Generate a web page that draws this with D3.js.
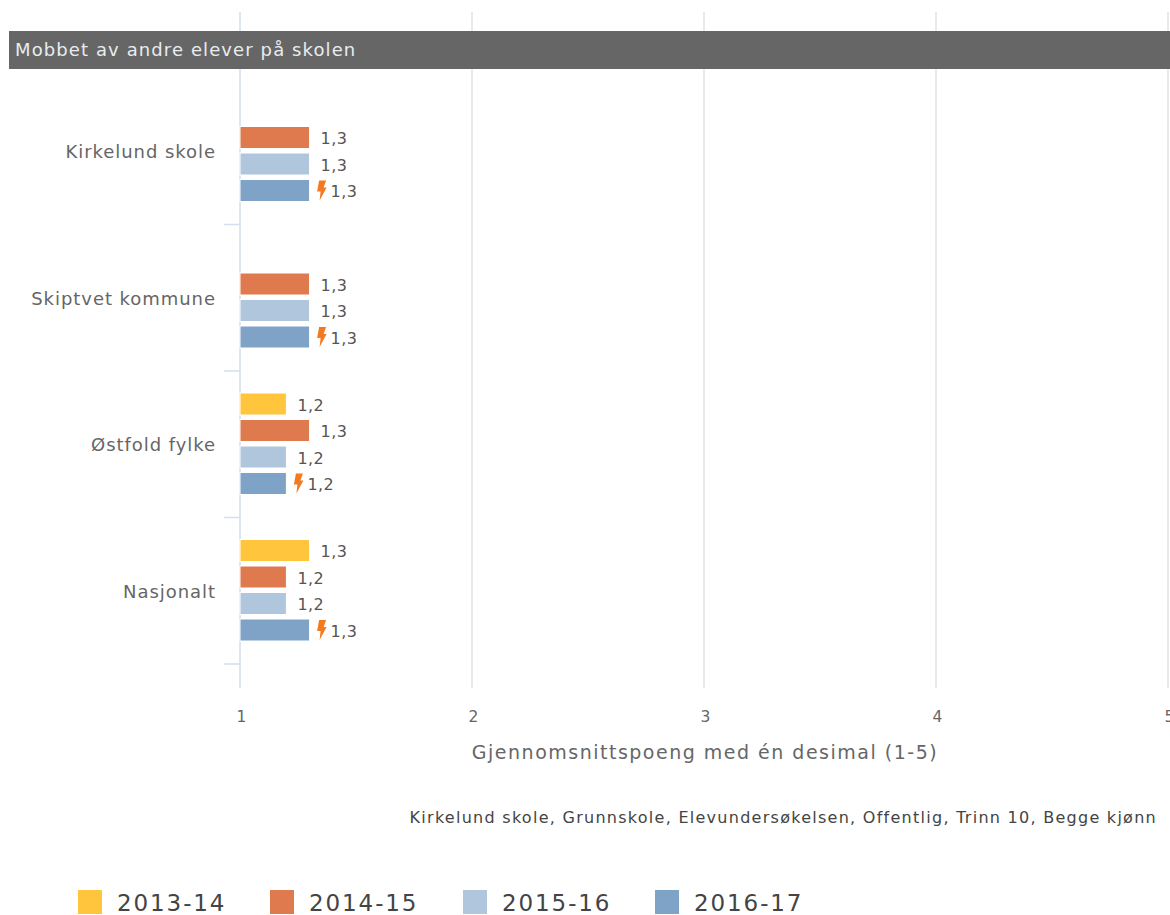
<!DOCTYPE html>
<html lang="en">
<head>
  <meta charset="UTF-8" />
  <title>Mobbet av andre elever</title>
  <script src="https://d3js.org/d3.v7.min.js"></script>
  <style>
    html, body { margin: 0; padding: 0; background: #fff; overflow: hidden; }
    svg { display: block; }
    text { font-family: "DejaVu Sans", sans-serif; }
  </style>
</head>
<body>
<script>
const WIDTH = 1170;
const HEIGHT = 915;

const categories = ["Kirkelund skole", "Skiptvet kommune", "Østfold fylke", "Nasjonalt"];
const years = ["2013-14", "2014-15", "2015-16", "2016-17"];
const colors = ["#ffc63d", "#de7a4e", "#b0c6dc", "#7fa3c7"];
const xTicks = [1, 2, 3, 4, 5];

// one array per year, same order as categories, null = no result
const y2013 = [null, null, 1.2, 1.3];
const y2014 = [1.3, 1.3, 1.3, 1.2];
const y2015 = [1.3, 1.3, 1.2, 1.2];
const y2016 = [1.3, 1.3, 1.2, 1.3];
const series = [y2013, y2014, y2015, y2016];

const svg = d3.select("body").append("svg")
    .attr("width", WIDTH)
    .attr("height", HEIGHT);

const xScale = d3.scaleLinear().domain([1, 5]).range([240, 1168]);
const yScale = d3.scaleBand().domain(categories).range([78, 664]);
const slot = d3.scaleBand().domain(years)
    .range([22, 128]);

// grid
svg.append("g").selectAll("line")
    .data(xTicks)
    .enter().append("line")
        .attr("x1", d => xScale(d))
        .attr("x2", d => xScale(d))
        .attr("y1", 12)
        .attr("y2", 688)
        .attr("stroke", d => d === 1 ? "#d3deee" : "#e2e2e6")
        .attr("stroke-width", 1.5);

// title band
svg.append("rect")
    .attr("x", 9).attr("y", 31)
    .attr("width", WIDTH - 9).attr("height", 38)
    .attr("fill", "#666666");
svg.append("text")
    .attr("x", 15).attr("y", 56)
    .attr("fill", "#e8ecef")
    .attr("font-size", 18)
    .attr("letter-spacing", 1.1)
    .text("Mobbet av andre elever på skolen");

// y axis
svg.append("g")
    .attr("transform", "translate(240,1)")
    .call(d3.axisLeft(yScale).tickSize(0).tickPadding(24))
    .call(g => g.select(".domain").remove())
    .call(g => g.selectAll("text")
        .attr("fill", "#666")
        .attr("font-size", 18)
        .attr("letter-spacing", 0.95));

svg.append("g").selectAll("line")
    .data(categories)
    .enter().append("line")
        .attr("x1", 224).attr("x2", 240)
        .attr("y1", d => yScale(d) + yScale.step())
        .attr("y2", d => yScale(d) + yScale.step())
        .attr("stroke", "#d3deee")
        .attr("stroke-width", 1.5);

// x axis labels
svg.append("g")
    .attr("transform", "translate(1,688)")
    .call(d3.axisBottom(xScale).tickValues(xTicks).tickSize(0).tickPadding(23).tickFormat(d3.format("d")))
    .call(g => g.select(".domain").remove())
    .call(g => g.selectAll("text")
        .attr("fill", "#666")
        .attr("font-size", 15.5));

svg.append("text")
    .attr("x", 705).attr("y", 759)
    .attr("text-anchor", "middle")
    .attr("fill", "#666")
    .attr("font-size", 19)
    .attr("letter-spacing", 1.5)
    .text("Gjennomsnittspoeng med én desimal (1-5)");

svg.append("text")
    .attr("x", 1157).attr("y", 823)
    .attr("text-anchor", "end")
    .attr("fill", "#444")
    .attr("font-size", 16)
    .attr("letter-spacing", 1.27)
    .text("Kirkelund skole, Grunnskole, Elevundersøkelsen, Offentlig, Trinn 10, Begge kjønn");

// bars
const fmt = v => String(v).replace(".", ",");
const barH = 22;
const bolt = "M2 -10 L9 -10 L6.5 -3 L9.5 -3 L2.5 10 L3.5 1 L0 1 Z";

years.forEach((year, s) => {
    const rows = categories
        .map((c, i) => ({ cat: c, value: series[s][i] }))
        .filter(d => d.value !== null);
    const g = svg.append("g");
    const top = d => yScale(d.cat) + slot(year);

    g.selectAll("rect")
        .data(rows)
        .enter().append("rect")
            .attr("x", xScale(1))
            .attr("y", top)
            .attr("width", d => xScale(d.value) - xScale(1))
            .attr("height", barH)
            .attr("fill", colors[s])
            .attr("stroke", "#fff")
            .attr("stroke-width", 1);

    const latest = s === years.length - 1;
    g.selectAll("text")
        .data(rows)
        .enter().append("text")
            .attr("x", d => xScale(d.value) + (latest ? 21 : 11))
            .attr("y", d => top(d) + barH / 2 + 6.5)
            .attr("fill", "#555")
            .attr("font-size", 16)
            .attr("letter-spacing", 0.4)
            .text(d => fmt(d.value));

    if (latest) {
        g.selectAll("path")
            .data(rows)
            .enter().append("path")
                .attr("transform", d => `translate(${xScale(d.value) + 7.5},${top(d) + barH / 2})`)
                .attr("d", bolt)
                .attr("fill", "#f47a1f");
    }
});

// legend
const legendX = d3.scaleOrdinal().domain(years).range([78, 270, 463, 655]);
const legend = svg.append("g").selectAll("g")
    .data(years)
    .enter().append("g")
        .attr("transform", d => `translate(${legendX(d)},890)`);
legend.append("rect")
    .attr("width", 24).attr("height", 24)
    .attr("fill", (d, i) => colors[i]);
legend.append("text")
    .attr("x", 39).attr("y", 21)
    .attr("fill", "#444")
    .attr("font-size", 23)
    .attr("letter-spacing", 1.9)
    .text(d => d);
</script>
</body>
</html>
